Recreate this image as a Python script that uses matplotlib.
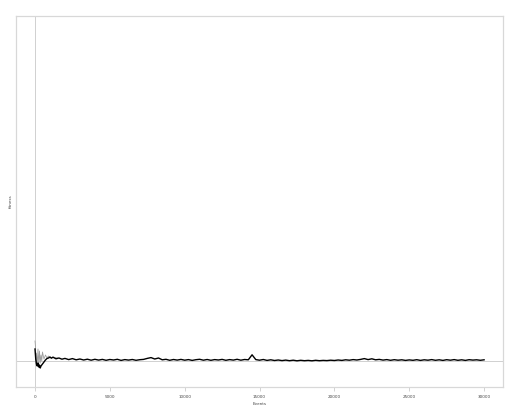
import numpy as np
import matplotlib.pyplot as plt

# early part of the trace (events, value)
early_x = [0, 50, 100, 150, 200, 250, 300, 350, 400, 500, 600, 700, 800, 900,
           1000, 1100, 1200, 1400, 1600, 1800, 2000]
early_y = [1.2, 0.2, -0.3, -0.5, -0.2, -0.6, -0.4, -0.7, -0.5, -0.3, -0.1, 0.1,
           0.25, 0.3, 0.4, 0.28, 0.38, 0.22, 0.3, 0.18, 0.26]

# rest of the trace, one value every 250 events from 2250 to 30000
late_y = [0.14, 0.24, 0.12, 0.20, 0.10, 0.18, 0.08, 0.17, 0.09, 0.16,
          0.07, 0.15, 0.10, 0.17, 0.06, 0.14, 0.09, 0.15, 0.07, 0.13,
          0.16, 0.26, 0.34, 0.20, 0.30, 0.12, 0.17, 0.07, 0.15, 0.09,
          0.16, 0.08, 0.14, 0.06, 0.13, 0.17, 0.08, 0.15, 0.07, 0.14,
          0.10, 0.16, 0.07, 0.14, 0.09, 0.17, 0.08, 0.15, 0.12, 0.62,
          0.14, 0.08, 0.15, 0.06, 0.12, 0.05, 0.10, 0.04, 0.09, 0.03,
          0.08, 0.02, 0.07, 0.03, 0.06, 0.02, 0.07, 0.03, 0.06, 0.04,
          0.08, 0.05, 0.10, 0.06, 0.12, 0.08, 0.14, 0.10, 0.16, 0.24,
          0.14, 0.22, 0.12, 0.16, 0.09, 0.14, 0.07, 0.13, 0.08, 0.12,
          0.06, 0.11, 0.07, 0.13, 0.06, 0.12, 0.08, 0.14, 0.07, 0.12,
          0.06, 0.13, 0.08, 0.14, 0.07, 0.12, 0.06, 0.13, 0.09, 0.12,
          0.07, 0.12]
late_x = list(range(2250, 30001, 250))

# lighter trace visible only at the start
gray_x = [0, 30, 60, 100, 150, 200, 250, 300, 350, 400, 450, 500, 600, 700,
          800, 900, 1000, 1200, 1500]
gray_y = [2.0, 1.5, -0.4, 0.8, -0.5, 1.2, -0.3, 1.0, -0.2, 0.6, 0.0, 0.9, 0.2,
          0.6, 0.3, 0.5, 0.3, 0.4, 0.3]

xticks = [0, 5000, 10000, 15000, 20000, 25000, 30000]

fig = plt.figure(figsize=(5.12, 4.08), dpi=100)
ax = fig.add_axes([16 / 512, 21 / 408, 487 / 512, 371 / 408])

ax.axhline(0, color="#d0d0d0", lw=0.7, zorder=1)
ax.axvline(0, color="#d0d0d0", lw=0.7, zorder=1)

ax.plot(gray_x, gray_y, color="#a0a0a0", lw=0.6, zorder=2)
ax.plot(early_x + late_x, early_y + late_y, color="black", lw=1.0, zorder=3)

ax.set_xlim(-1269, 31263)
ax.set_ylim(-2.6, 34.5)

for s in ax.spines.values():
    s.set_color("#d8d8d8")
    s.set_linewidth(0.9)

ax.set_xticks(xticks)
ax.set_xticklabels([str(x) for x in xticks], fontsize=3, color="#444444")
ax.tick_params(axis="x", length=3, width=0.5, color="#c0c0c0", pad=3)
ax.set_yticks([])
ax.set_xlabel("Events", fontsize=3, color="#444444", labelpad=2)
ax.set_ylabel("fitness", fontsize=3, color="#444444", labelpad=2)

fig.savefig("out.png", dpi=100)
